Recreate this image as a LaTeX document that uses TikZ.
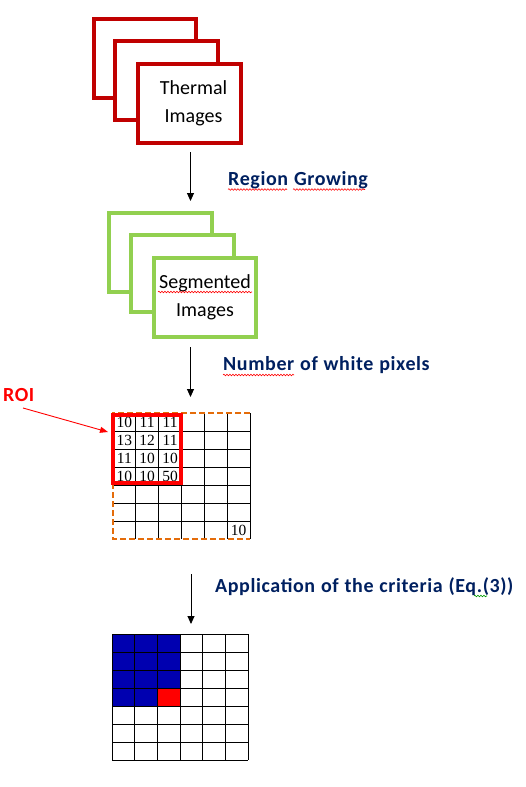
\documentclass[tikz,border=0pt]{standalone}
\usepackage{fontspec}
\setmainfont{Carlito}
\newfontfamily\numfont{Liberation Serif}
\newfontfamily\labfont[LetterSpace=3,WordSpace=1.15]{Carlito}
\usetikzlibrary{arrows.meta,decorations.pathmorphing}
\definecolor{thermred}{RGB}{192,0,0}
\definecolor{seggreen}{RGB}{146,208,80}
\definecolor{navy}{RGB}{0,32,96}
\definecolor{roired}{RGB}{255,0,0}
\definecolor{cellblue}{RGB}{0,0,176}
\definecolor{dashorange}{RGB}{228,108,10}
\begin{document}
\begin{tikzpicture}[x=1pt,y=-1pt,
  imgbox/.style={fill=white,minimum width=102pt,minimum height=79pt,inner sep=0pt,
    font=\fontsize{20}{28}\selectfont,align=center},
  thermbox/.style={imgbox,draw=thermred,line width=4.5pt},
  segbox/.style={imgbox,draw=seggreen,line width=4pt},
  steplabel/.style={text=navy,font=\labfont\bfseries\fontsize{20}{23}\selectfont,anchor=west,inner sep=0pt},
  arr/.style={-{Triangle[length=8pt,width=7pt]},line width=0.9pt},
  squig/.style={decorate,decoration={snake,amplitude=0.8pt,segment length=3pt},line width=0.6pt},
  cellnum/.style={font=\numfont\fontsize{15.5}{15.5}\selectfont,inner sep=0pt},
  gridline/.style={line width=1pt,black}
]
\useasboundingbox (0,0) rectangle (526,787);

% Thermal images stack
\node[thermbox] (t1) at (145,58.5) {};
\node[thermbox,minimum width=103pt] (t2) at (166.5,80.5) {};
\node[thermbox,minimum width=103pt] (t3) at (189.5,103.5) {\hspace*{8pt}Thermal\\\hspace*{8pt}Images};

% Arrow 1
\coordinate (a1s) at (190.5,152);
\coordinate (a1e) at (190.5,201);
\draw[arr] (a1s) -- (a1e);
\node[steplabel] (lab1) at (228,180) {Region Growing};
\draw[squig,red] (228,189.5) -- (287,189.5);
\draw[squig,red] (293,189.5) -- (365,189.5);

% Segmented images stack
\node[segbox,minimum width=103pt] (s1) at (160.5,252.5) {};
\node[segbox,minimum width=103pt,minimum height=77pt] (s2) at (182.5,273.5) {};
\node[segbox] (s3) at (205,297.5) {Segmented\\Images};
\draw[squig,red] (158,292) -- (252,292);

% Arrow 2
\coordinate (a2s) at (190.5,347);
\coordinate (a2e) at (190.5,397);
\draw[arr] (a2s) -- (a2e);
\node[steplabel] (lab2) at (223,365) {Number of white pixels};
\draw[squig,red] (223,375) -- (294,375);

% Grid 1
\foreach \i in {1,...,5} \draw[gridline] ({113+\i*22.833},413) -- ({113+\i*22.833},539);
\foreach \j in {1,...,6} \draw[gridline] (113,{413+\j*18}) -- (250,{413+\j*18});
\draw[gridline] (250,413) -- (250,539);
\draw[dashorange,dash pattern=on 6pt off 3pt,line width=1.3pt] (250,413) -- (113,413) -- (113,539) -- (250,539);

\foreach \r/\a/\b/\c in {1/10/11/11,2/13/12/11,3/11/10/10,4/10/10/50}{
  \node[cellnum] (n\r a) at (124.4,{413.5+(\r-0.5)*18}) {\a};
  \node[cellnum] (n\r b) at (147.2,{413.5+(\r-0.5)*18}) {\b};
  \node[cellnum] (n\r c) at (170.1,{413.5+(\r-0.5)*18}) {\c};
}
\node[cellnum] (nlast) at (238.6,530) {10};

% ROI
\node[draw=roired,line width=4pt,minimum width=68pt,minimum height=68pt,inner sep=0pt] (roi) at (147,449) {};
\node[text=roired,font=\labfont\bfseries\fontsize{20}{23}\selectfont,anchor=west,inner sep=0pt] (roilab) at (3,395) {ROI};
\coordinate (roiarrs) at (23,408);
\coordinate (roiarre) at (108,432);
\draw[-{Triangle[length=8pt,width=6pt]},roired,line width=0.9pt] (roiarrs) -- (roiarre);

% Arrow 3
\coordinate (a3s) at (191,574);
\coordinate (a3e) at (191,624);
\draw[arr] (a3s) -- (a3e);
\node[steplabel] (lab3) at (215,587) {Application of the criteria (Eq.(3))};
\draw[squig,green!60!black] (474,596) -- (487,596);

% Grid 2
\foreach \r/\c in {1/1,1/2,1/3,2/1,2/2,2/3,3/1,3/2,3/3,4/1,4/2}
  \fill[cellblue] ({112+(\c-1)*22.667},{634+(\r-1)*18}) rectangle ++(22.667,18);
\fill[roired] ({112+2*22.667},{634+3*18}) rectangle ++(22.667,18);
\foreach \i in {0,...,6} \draw[gridline] ({112+\i*22.667},634) -- ({112+\i*22.667},760);
\foreach \j in {0,...,7} \draw[gridline] (112,{634+\j*18}) -- (248,{634+\j*18});
\end{tikzpicture}
\end{document}
